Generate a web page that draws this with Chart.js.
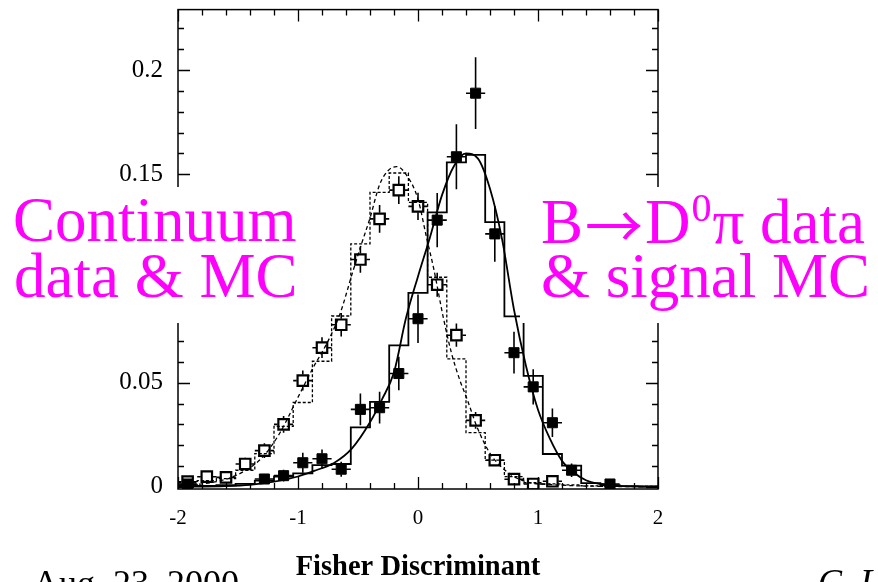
<!DOCTYPE html>
<html>
<head>
<meta charset="utf-8">
<script src="https://cdn.jsdelivr.net/npm/chart.js@4"></script>
<style>
  html, body { margin: 0; padding: 0; background: #fff; }
  #c { display: block; }
</style>
</head>
<body>
<canvas id="c" width="878" height="582"></canvas>
<script>
// Bin centres of the Fisher discriminant histograms (25 bins from -2 to 2)
const binCenters = [-1.92, -1.76, -1.60, -1.44, -1.28, -1.12, -0.96, -0.80, -0.64, -0.48, -0.32, -0.16,
                    0.00, 0.16, 0.32, 0.48, 0.64, 0.80, 0.96, 1.12, 1.28, 1.44, 1.60, 1.76, 1.92];
const binHalfWidth = 0.08;

// B -> D0 pi data (filled squares) and errors
const signalData = [0.0014, null, null, null, 0.0038, 0.0054, 0.0116, 0.0135, 0.0085, 0.0372, 0.0380, 0.0544,
                    0.0807, 0.1280, 0.1584, 0.1889, 0.1214, 0.0644, 0.0480, 0.0308, 0.0080, null, 0.0014, null, null];
const signalErr  = [0.0020, null, null, null, 0.0024, 0.0028, 0.0048, 0.0045, 0.0036, 0.0076, 0.0076, 0.0080,
                    0.0116, 0.0130, 0.0156, 0.0172, 0.0134, 0.0100, 0.0085, 0.0068, 0.0032, null, 0.0018, null, null];

// Continuum data (open squares) and errors
const contData = [0.0025, 0.0049, 0.0046, 0.0110, 0.0174, 0.0300, 0.0510, 0.0668, 0.0778, 0.1091, 0.1286, 0.1424,
                  0.1346, 0.0970, 0.0728, 0.0319, 0.0128, 0.0037, 0.0014, 0.0027, null, null, null, null, null];
const contErr  = [0.0018, 0.0020, 0.0020, 0.0030, 0.0035, 0.0040, 0.0048, 0.0050, 0.0056, 0.0063, 0.0067, 0.0067,
                  0.0065, 0.0058, 0.0056, 0.0040, 0.0025, 0.0015, 0.0010, 0.0015, null, null, null, null, null];

// Signal MC histogram (solid) and continuum MC histogram (dashed)
const signalMC = [0.0008, 0.0005, 0.0008, 0.0015, 0.0030, 0.0050, 0.0065, 0.0105, 0.0110, 0.0286, 0.0408, 0.0679,
                  0.0931, 0.1317, 0.1557, 0.1593, 0.1270, 0.0818, 0.0533, 0.0158, 0.0102, 0.0018, 0.0008, 0.0004, 0.0002];
const contMC   = [0.0020, 0.0030, 0.0040, 0.0080, 0.0160, 0.0290, 0.0405, 0.0603, 0.0820, 0.1166, 0.1413, 0.1506,
                  0.1365, 0.1006, 0.0614, 0.0260, 0.0129, 0.0049, 0.0020, 0.0015, 0.0010, 0.0005, 0.0003, 0.0003, 0.0003];

// Fitted shapes: signal (solid curve) and continuum (dashed curve)
const signalFitX = [-2.0, -1.6, -1.4, -1.2, -1.0, -0.85, -0.7, -0.55, -0.4, -0.3, -0.2, -0.1, 0.0, 0.1, 0.2, 0.3,
                    0.4, 0.5, 0.6, 0.7, 0.8, 0.9, 1.0, 1.1, 1.2, 1.3, 1.4, 1.5, 1.7, 2.0];
const signalFitY = [0.0001, 0.0004, 0.0010, 0.0025, 0.0050, 0.0080, 0.0115, 0.0185, 0.0310, 0.0420, 0.0550, 0.0810,
                    0.1010, 0.1198, 0.1400, 0.1540, 0.1600, 0.1575, 0.1430, 0.1190, 0.0850, 0.0580, 0.0370, 0.0230,
                    0.0125, 0.0068, 0.0032, 0.0016, 0.0004, 0.0001];
const contFitX = [-2.0, -1.8, -1.6, -1.45, -1.3, -1.15, -1.0, -0.87, -0.76, -0.65, -0.55, -0.48, -0.4, -0.32, -0.25,
                  -0.18, -0.1, 0.0, 0.07, 0.13, 0.21, 0.28, 0.35, 0.41, 0.49, 0.6, 0.74, 0.9, 1.15, 1.5, 2.0];
const contFitY = [0.0008, 0.0015, 0.0037, 0.0075, 0.0140, 0.0260, 0.0430, 0.0576, 0.0688, 0.0830, 0.1020, 0.1150,
                  0.1290, 0.1450, 0.1517, 0.1537, 0.1500, 0.1380, 0.1200, 0.1050, 0.0815, 0.0640, 0.0510, 0.0420,
                  0.0290, 0.0161, 0.0073, 0.0025, 0.0010, 0.0003, 0.0001];

// Axis ticks
const xTicks = [-2, -1, 0, 1, 2];
const xTickLabels = ['-2', '-1', '0', '1', '2'];
const yTicks = [0, 0.05, 0.1, 0.15, 0.2];
const yTickLabels = ['0', '0.05', '0.1', '0.15', '0.2'];

const SERIF = "'Liberation Serif', 'Times New Roman', serif";

function histPoints(vals) {
  const pts = binCenters.map((c, i) => ({ x: c - binHalfWidth, y: vals[i] }));
  pts.push({ x: binCenters[binCenters.length - 1] + binHalfWidth, y: vals[vals.length - 1] });
  return pts;
}
function markerPoints(vals, errs) {
  return binCenters.map((c, i) => ({ x: c, y: vals[i], e: errs[i] })).filter(p => p.y !== null);
}
function curvePoints(xs, ys) {
  return xs.map((x, i) => ({ x: x, y: ys[i] }));
}

// Error bars drawn outward from the marker edges
const errorBars = {
  id: 'errorBars',
  beforeDatasetDraw(chart, args) {
    const ds = chart.data.datasets[args.index];
    if (!ds.errorBars) return;
    const meta = args.meta;
    const xs = chart.scales.x, ys = chart.scales.y;
    const ctx = chart.ctx;
    const half = ds.markerHalf;
    ctx.save();
    ctx.beginPath();
    ctx.rect(chart.chartArea.left, chart.chartArea.top, chart.chartArea.width, chart.chartArea.height);
    ctx.clip();
    ctx.strokeStyle = '#000';
    ctx.lineWidth = 1.6;
    ctx.beginPath();
    meta.data.forEach((el, i) => {
      const p = ds.data[i];
      const px = el.x, py = el.y;
      const yTop = ys.getPixelForValue(p.y + p.e);
      const yBot = ys.getPixelForValue(p.y - p.e);
      const xL = xs.getPixelForValue(p.x - binHalfWidth);
      const xR = xs.getPixelForValue(p.x + binHalfWidth);
      if (yTop < py - half) { ctx.moveTo(px, py - half); ctx.lineTo(px, yTop); }
      if (yBot > py + half) { ctx.moveTo(px, py + half); ctx.lineTo(px, yBot); }
      if (xL < px - half) { ctx.moveTo(px - half, py); ctx.lineTo(xL, py); }
      if (xR > px + half) { ctx.moveTo(px + half, py); ctx.lineTo(xR, py); }
    });
    ctx.stroke();
    ctx.restore();
  }
};

// Frame with inward ticks on all four sides
const frame = {
  id: 'frame',
  afterDatasetsDraw(chart) {
    const { ctx, chartArea: a } = chart;
    const xs = chart.scales.x, ys = chart.scales.y;
    ctx.save();
    ctx.strokeStyle = '#000';
    ctx.lineWidth = 1.5;
    ctx.strokeRect(a.left, a.top, a.right - a.left, a.bottom - a.top);
    ctx.lineWidth = 1.3;
    ctx.beginPath();
    for (let k = 0; k <= 22; k++) {
      const v = k / 100;
      const py = Math.round(ys.getPixelForValue(v)) + 0.5;
      const len = (k % 5 === 0) ? 12 : 6;
      ctx.moveTo(a.left, py); ctx.lineTo(a.left + len, py);
      ctx.moveTo(a.right, py); ctx.lineTo(a.right - len, py);
    }
    for (let k = -10; k <= 10; k++) {
      const v = k / 5;
      const px = Math.round(xs.getPixelForValue(v)) + 0.5;
      const len = (k % 5 === 0) ? 12 : 6;
      ctx.moveTo(px, a.bottom); ctx.lineTo(px, a.bottom - len);
      ctx.moveTo(px, a.top); ctx.lineTo(px, a.top + len);
    }
    ctx.stroke();
    ctx.restore();
  }
};

// Sample labels on white panels, plus date and author line
const labels = {
  id: 'labels',
  afterDraw(chart) {
    const ctx = chart.ctx;
    ctx.save();
    ctx.fillStyle = '#fff';
    ctx.fillRect(0, 187, 305, 136);
    ctx.fillRect(520, 187, 358, 136);

    ctx.fillStyle = '#ff00ff';
    ctx.textBaseline = 'alphabetic';
    ctx.textAlign = 'left';
    const big = '63px ' + SERIF;
    ctx.font = big;
    ctx.fillText('Continuum', 13, 241);
    ctx.fillText('data & MC', 14, 297);

    let x = 541;
    ctx.fillText('B', x, 243);
    x += ctx.measureText('B').width + 2;
    ctx.font = "58px 'Noto Sans CJK JP', 'DejaVu Sans', sans-serif";
    ctx.fillText('\u2192', x, 248);
    x += ctx.measureText('\u2192').width + 2;
    ctx.font = big;
    ctx.fillText('D', x, 243);
    x += ctx.measureText('D').width;
    ctx.font = '40px ' + SERIF;
    ctx.fillText('0', x + 1, 221);
    x += ctx.measureText('0').width + 2;
    ctx.font = big;
    ctx.fillText('\u03c0 data', x, 243);
    ctx.fillText('& signal MC', 541, 297);

    ctx.fillStyle = '#000';
    ctx.font = '36px ' + SERIF;
    ctx.fillText('Aug. 23, 2000', 33, 595);
    ctx.font = 'italic 36px ' + SERIF;
    ctx.fillText('C. L', 818, 594);
    ctx.restore();
  }
};

const ctx = document.getElementById('c').getContext('2d');
new Chart(ctx, {
  type: 'scatter',
  data: {
    datasets: [
      {
        label: 'continuum MC',
        data: histPoints(contMC),
        showLine: true, stepped: 'before',
        borderColor: '#000', borderWidth: 1.3, borderDash: [3, 2],
        pointRadius: 0, fill: false, order: 6
      },
      {
        label: 'signal MC',
        data: histPoints(signalMC),
        showLine: true, stepped: 'before',
        borderColor: '#000', borderWidth: 1.8,
        pointRadius: 0, fill: false, order: 5
      },
      {
        label: 'continuum fit',
        data: curvePoints(contFitX, contFitY),
        showLine: true, cubicInterpolationMode: 'monotone',
        borderColor: '#000', borderWidth: 1.3, borderDash: [4, 3],
        pointRadius: 0, fill: false, order: 4
      },
      {
        label: 'signal fit',
        data: curvePoints(signalFitX, signalFitY),
        showLine: true, cubicInterpolationMode: 'monotone',
        borderColor: '#000', borderWidth: 1.8,
        pointRadius: 0, fill: false, order: 3
      },
      {
        label: 'continuum data',
        data: markerPoints(contData, contErr),
        errorBars: true, markerHalf: 6,
        pointStyle: 'rect', pointRadius: 7.4,
        backgroundColor: 'rgba(0,0,0,0)', borderColor: '#000', borderWidth: 2.2,
        order: 2
      },
      {
        label: 'B to D0 pi data',
        data: markerPoints(signalData, signalErr),
        errorBars: true, markerHalf: 5,
        pointStyle: 'rect', pointRadius: 7.1,
        backgroundColor: '#000', borderColor: '#000', borderWidth: 1,
        order: 1
      }
    ]
  },
  options: {
    responsive: false,
    animation: false,
    devicePixelRatio: 1,
    layout: { padding: { top: 8, right: 220, left: 0, bottom: 0 } },
    plugins: { legend: { display: false }, tooltip: { enabled: false } },
    scales: {
      x: {
        type: 'linear', min: -2, max: 2,
        grid: { display: false, drawTicks: false },
        border: { display: false },
        afterBuildTicks: s => { s.ticks = xTicks.map(v => ({ value: v })); },
        afterFit: s => { s.height = 93; s.paddingLeft = 0; s.paddingRight = 0; },
        ticks: {
          color: '#000', padding: 17, maxRotation: 0, autoSkip: false,
          font: { family: SERIF, size: 21 },
          callback: (v, i) => xTickLabels[i]
        },
        title: {
          display: true, text: 'Fisher Discriminant', color: '#000',
          font: { family: SERIF, size: 28.5, weight: 'bold', lineHeight: 1 },
          padding: { top: 0, bottom: 0 }
        }
      },
      y: {
        type: 'linear', min: -0.001, max: 0.229,
        grid: { display: false, drawTicks: false },
        border: { display: false },
        afterBuildTicks: s => { s.ticks = yTicks.map(v => ({ value: v })); },
        afterFit: s => { s.width = 178; s.paddingTop = 0; s.paddingBottom = 0; },
        ticks: {
          color: '#000', padding: 15, autoSkip: false,
          font: { family: SERIF, size: 25 },
          callback: (v, i) => yTickLabels[i]
        }
      }
    }
  },
  plugins: [errorBars, frame, labels]
});
</script>
</body>
</html>
